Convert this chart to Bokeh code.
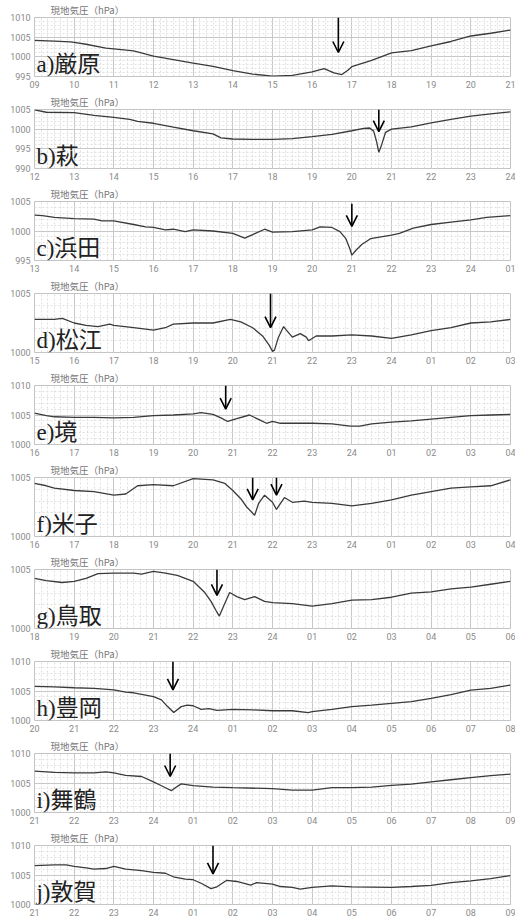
from bokeh.plotting import figure
from bokeh.layouts import column
from bokeh.models import Label, Arrow, OpenHead, FixedTicker, Range1d
from bokeh.embed import file_html
from bokeh.resources import INLINE

# ---- data (hours since panel start, station pressure hPa) ----
STATIONS = ["a)厳原", "b)萩", "c)浜田", "d)松江", "e)境", "f)米子", "g)鳥取", "h)豊岡", "i)舞鶴", "j)敦賀"]
START_HOURS = [9, 12, 13, 15, 16, 16, 18, 20, 21, 21]
Y_MIN = [995, 990, 995, 1000, 1000, 1000, 1000, 1000, 1000, 1000]
Y_MAX = [1010, 1005, 1005, 1005, 1010, 1005, 1005, 1010, 1010, 1010]

T_A = [0, 0.5, 0.9, 1.0, 1.3, 1.7, 1.8, 2.0, 2.5, 3.0, 3.5, 4.0, 4.5, 5.0, 5.5, 6.0, 6.5, 7.0, 7.3, 7.55, 7.75, 7.9, 8.0, 8.5, 9.0, 9.5, 10.0, 10.5, 11.0, 11.5, 12.0]
P_A = [1004.2, 1004.0, 1003.8, 1003.7, 1003.2, 1002.4, 1002.2, 1002.0, 1001.5, 1000.2, 999.3, 998.4, 997.6, 996.5, 995.6, 995.1, 995.3, 996.2, 997.0, 995.9, 995.5, 996.6, 997.5, 999.1, 1001.0, 1001.6, 1002.8, 1003.9, 1005.3, 1006.0, 1006.8]

T_B = [0, 0.3, 1.0, 1.5, 2.0, 2.4, 2.6, 3.0, 3.5, 4.0, 4.5, 4.7, 5.0, 5.5, 6.0, 6.5, 7.0, 7.5, 8.0, 8.3, 8.45, 8.55, 8.62, 8.68, 8.75, 8.85, 9.0, 9.5, 10.0, 10.5, 11.0, 11.5, 12.0]
P_B = [1004.9, 1004.3, 1004.2, 1003.5, 1003.0, 1002.5, 1002.0, 1001.5, 1000.5, 999.6, 998.8, 997.8, 997.5, 997.4, 997.4, 997.6, 998.1, 998.7, 999.6, 1000.2, 1000.3, 999.5, 997.0, 994.1, 996.0, 999.2, 1000.0, 1000.6, 1001.6, 1002.5, 1003.3, 1003.9, 1004.4]

T_C = [0, 0.2, 0.5, 1.0, 1.5, 1.7, 2.0, 2.5, 2.8, 3.0, 3.3, 3.5, 3.8, 4.0, 4.5, 5.0, 5.3, 5.5, 5.8, 6.0, 6.5, 7.0, 7.2, 7.5, 7.7, 7.85, 7.95, 8.0, 8.1, 8.25, 8.47, 9.0, 9.2, 9.55, 10.0, 10.5, 11.0, 11.4, 12.0]
P_C = [1002.7, 1002.6, 1002.3, 1002.1, 1002.0, 1001.7, 1001.7, 1001.1, 1000.7, 1000.6, 1000.2, 1000.3, 999.9, 1000.2, 1000.0, 999.6, 998.8, 999.4, 1000.3, 999.8, 999.9, 1000.2, 1000.7, 1000.6, 999.9, 998.7, 997.0, 995.9, 996.7, 997.7, 998.7, 999.3, 999.6, 1000.5, 1001.1, 1001.5, 1001.9, 1002.3, 1002.6]

T_D = [0, 0.5, 0.7, 1.0, 1.3, 1.6, 1.9, 2.0, 2.5, 3.0, 3.3, 3.5, 4.0, 4.5, 4.94, 5.2, 5.5, 5.75, 5.92, 6.0, 6.05, 6.15, 6.28, 6.35, 6.5, 6.7, 6.85, 6.91, 7.1, 7.5, 8.0, 8.5, 9.0, 9.5, 10.0, 10.5, 11.0, 11.5, 12.0]
P_D = [1002.8, 1002.8, 1002.9, 1002.5, 1002.3, 1002.2, 1002.4, 1002.3, 1002.1, 1001.9, 1002.1, 1002.4, 1002.5, 1002.5, 1002.8, 1002.6, 1002.1, 1001.4, 1000.6, 1000.1, 1000.2, 1001.3, 1002.2, 1001.9, 1001.3, 1001.6, 1001.3, 1001.0, 1001.4, 1001.4, 1001.5, 1001.4, 1001.2, 1001.5, 1001.85, 1002.1, 1002.5, 1002.6, 1002.8]

T_E = [0, 0.3, 0.5, 1.0, 1.5, 2.0, 2.5, 3.0, 3.5, 4.0, 4.2, 4.5, 4.7, 4.87, 5.1, 5.42, 5.7, 5.85, 6.0, 6.2, 7.0, 7.5, 7.96, 8.2, 8.5, 9.0, 9.5, 10.0, 10.5, 11.0, 11.5, 12.0]
P_E = [1005.3, 1004.9, 1004.7, 1004.6, 1004.6, 1004.5, 1004.6, 1004.9, 1005.0, 1005.2, 1005.4, 1005.1, 1004.5, 1003.9, 1004.4, 1005.0, 1004.1, 1003.6, 1003.9, 1003.6, 1003.6, 1003.5, 1003.1, 1003.1, 1003.5, 1003.8, 1004.0, 1004.3, 1004.6, 1004.9, 1005.0, 1005.1]

T_F = [0, 0.3, 0.5, 1.0, 1.5, 2.0, 2.3, 2.6, 3.0, 3.5, 4.0, 4.5, 4.8, 5.0, 5.2, 5.35, 5.55, 5.65, 5.8, 6.0, 6.1, 6.3, 6.5, 6.8, 7.0, 7.5, 8.0, 8.5, 9.0, 9.5, 10.0, 10.5, 11.0, 11.5, 12.0]
P_F = [1004.5, 1004.3, 1004.1, 1003.9, 1003.8, 1003.5, 1003.6, 1004.3, 1004.4, 1004.3, 1004.9, 1004.8, 1004.5, 1003.9, 1003.2, 1002.5, 1001.8, 1002.8, 1003.5, 1002.9, 1002.3, 1003.3, 1002.9, 1003.0, 1002.9, 1002.8, 1002.6, 1002.8, 1003.1, 1003.5, 1003.8, 1004.1, 1004.2, 1004.3, 1004.8]

T_G = [0, 0.3, 0.7, 1.0, 1.3, 1.6, 2.0, 2.5, 2.7, 3.0, 3.3, 3.6, 4.0, 4.28, 4.45, 4.58, 4.66, 4.78, 4.92, 5.1, 5.3, 5.55, 5.8, 6.0, 6.5, 7.0, 7.5, 8.0, 8.5, 9.0, 9.5, 10.0, 10.5, 11.0, 11.5, 12.0]
P_G = [1004.25, 1004.05, 1003.9, 1004.0, 1004.25, 1004.65, 1004.7, 1004.7, 1004.6, 1004.85, 1004.7, 1004.5, 1004.0, 1003.1, 1002.3, 1001.5, 1001.05, 1002.0, 1003.05, 1002.7, 1002.45, 1002.7, 1002.3, 1002.2, 1002.1, 1001.9, 1002.1, 1002.4, 1002.45, 1002.65, 1003.0, 1003.1, 1003.35, 1003.5, 1003.75, 1004.0]

T_H = [0, 0.5, 1.0, 1.5, 2.0, 2.3, 2.5, 3.0, 3.2, 3.35, 3.51, 3.7, 3.85, 4.0, 4.2, 4.4, 4.6, 5.0, 5.5, 6.0, 6.5, 6.9, 7.0, 7.5, 8.0, 8.5, 9.0, 9.5, 10.0, 10.5, 11.0, 11.5, 12.0]
P_H = [1005.8, 1005.7, 1005.55, 1005.45, 1005.2, 1004.8, 1004.7, 1004.05, 1003.5, 1002.4, 1001.35, 1002.35, 1002.6, 1002.5, 1001.9, 1002.0, 1001.7, 1001.9, 1001.8, 1001.65, 1001.65, 1001.35, 1001.5, 1001.9, 1002.35, 1002.6, 1002.9, 1003.2, 1003.75, 1004.4, 1005.15, 1005.45, 1006.0]

T_I = [0, 0.5, 1.0, 1.5, 1.8, 2.0, 2.3, 2.7, 3.0, 3.15, 3.3, 3.45, 3.55, 3.7, 4.0, 4.5, 5.0, 6.0, 6.5, 7.0, 7.5, 8.0, 8.5, 9.0, 9.5, 10.0, 10.5, 11.0, 11.5, 12.0]
P_I = [1007.0, 1006.8, 1006.7, 1006.7, 1006.9, 1006.7, 1006.3, 1006.1, 1005.2, 1004.7, 1004.2, 1003.7, 1004.2, 1004.85, 1004.55, 1004.3, 1004.2, 1004.05, 1003.8, 1003.8, 1004.2, 1004.2, 1004.3, 1004.6, 1004.8, 1005.2, 1005.55, 1005.9, 1006.25, 1006.5]

T_J = [0, 0.5, 0.8, 1.0, 1.3, 1.5, 1.8, 2.0, 2.3, 2.7, 3.0, 3.3, 3.5, 3.8, 4.0, 4.2, 4.45, 4.6, 4.85, 5.1, 5.45, 5.6, 6.0, 6.2, 6.5, 6.7, 7.0, 7.5, 8.0, 9.0, 9.5, 10.0, 10.5, 11.0, 11.5, 12.0]
P_J = [1006.6, 1006.7, 1006.7, 1006.45, 1006.2, 1006.0, 1006.1, 1006.45, 1006.0, 1005.75, 1005.45, 1005.3, 1004.7, 1004.3, 1004.2, 1003.6, 1002.7, 1003.0, 1004.1, 1003.9, 1003.3, 1003.7, 1003.45, 1003.05, 1002.9, 1002.6, 1002.9, 1003.15, 1003.0, 1002.9, 1003.05, 1003.25, 1003.7, 1004.0, 1004.4, 1004.9]

# arrows: (hour offset, pressure at tail, pressure at tip)
ARROWS_A = [(7.66, 1010.0, 1001.1)]
ARROWS_B = [(8.68, 1005.0, 999.4)]
ARROWS_C = [(8.0, 1004.6, 1000.8)]
ARROWS_D = [(5.95, 1005.0, 1002.1)]
ARROWS_E = [(4.82, 1010.0, 1006.0)]
ARROWS_F = [(5.5, 1005.0, 1003.1), (6.1, 1005.0, 1003.5)]
ARROWS_G = [(4.6, 1005.0, 1002.8)]
ARROWS_H = [(3.49, 1010.0, 1005.2)]
ARROWS_I = [(3.42, 1010.0, 1006.1)]
ARROWS_J = [(4.5, 1010.0, 1005.2)]

TIMES = [T_A, T_B, T_C, T_D, T_E, T_F, T_G, T_H, T_I, T_J]
PRESSURES = [P_A, P_B, P_C, P_D, P_E, P_F, P_G, P_H, P_I, P_J]
ARROWS = [ARROWS_A, ARROWS_B, ARROWS_C, ARROWS_D, ARROWS_E, ARROWS_F, ARROWS_G, ARROWS_H, ARROWS_I, ARROWS_J]
TITLE = "現地気圧（hPa）"

TICK_FONT = "Roboto"
GREY = "#8a8a8a"

figs = []
for k in range(len(STATIONS)):
    y0, y1 = Y_MIN[k], Y_MAX[k]
    p = figure(width=515, height=92, min_border_left=34, min_border_right=5,
               min_border_top=16, min_border_bottom=16,
               x_range=Range1d(0, 12), y_range=Range1d(y0, y1),
               output_backend="svg", toolbar_location=None, tools="")
    p.title.text = TITLE
    p.title.text_font = "Noto Sans CJK JP"
    p.title.text_font_size = "9.5px"
    p.title.text_font_style = "normal"
    p.title.text_color = "#777777"
    p.title.align = "left"
    p.title.offset = 16
    p.title.standoff = 1
    p.background_fill_color = "white"
    p.border_fill_color = "white"
    p.outline_line_color = "#c4c4c4"

    hours = list(range(13))
    labels = {h: "%02d" % (((START_HOURS[k] + h - 1) % 24) + 1) for h in hours}
    p.xaxis.ticker = FixedTicker(ticks=hours, minor_ticks=[i / 6 for i in range(73)])
    p.xaxis.major_label_overrides = labels
    yt = list(range(y0, y1 + 1, 5))
    p.yaxis.ticker = FixedTicker(ticks=yt, minor_ticks=list(range(y0, y1 + 1)))

    for ax in (p.xaxis, p.yaxis):
        ax.axis_line_color = None
        ax.major_tick_line_color = None
        ax.minor_tick_line_color = None
        ax.major_tick_out = 0
        ax.major_tick_in = 0
        ax.minor_tick_out = 0
        ax.minor_tick_in = 0
        ax.major_label_text_font = TICK_FONT
        ax.major_label_text_font_size = "9px"
        ax.major_label_text_color = GREY
    p.xaxis.major_label_standoff = 4
    p.yaxis.major_label_standoff = 4

    for g in (p.xgrid, p.ygrid):
        g.grid_line_color = "#c8c8c8"
        g.grid_line_width = 1
        g.minor_grid_line_color = "#e0e0e0"
        g.minor_grid_line_dash = "2 2"
        g.minor_grid_line_width = 1

    p.line(TIMES[k], PRESSURES[k], line_color="#3a3a3a", line_width=1.3)

    p.add_layout(Label(x=0.05, y=y0, y_offset=0, text=STATIONS[k],
                       text_font="Liberation Serif, Noto Sans CJK JP",
                       text_font_size="23px", text_color="#222222",
                       text_baseline="bottom"))
    for (ax_t, ys, ye) in ARROWS[k]:
        p.add_layout(Arrow(x_start=ax_t, y_start=ys, x_end=ax_t, y_end=ye,
                           line_color="black", line_width=1.6,
                           end=OpenHead(size=11, line_width=1.6, line_color="black")))
    figs.append(p)

layout = column(*figs, spacing=0)
open("out.html", "w").write(file_html(layout, INLINE))
